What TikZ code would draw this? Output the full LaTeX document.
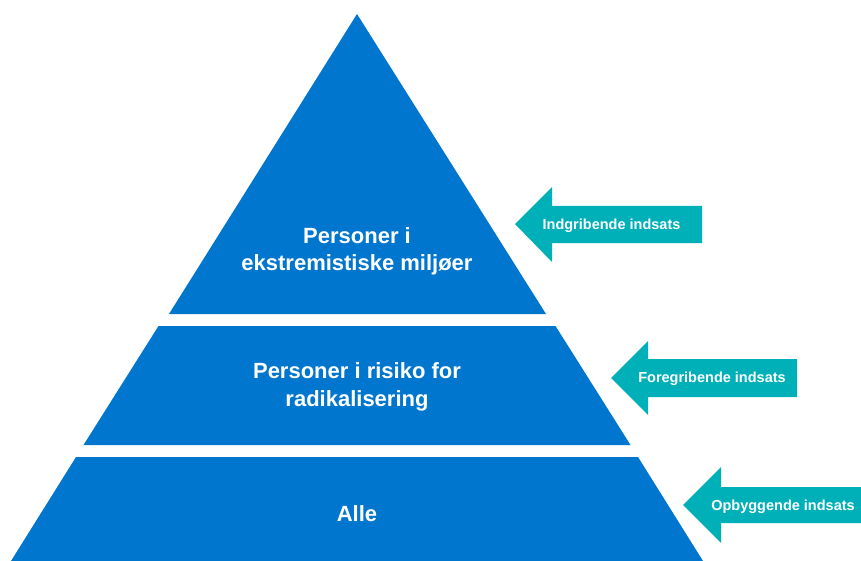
\documentclass[tikz,border=0pt]{standalone}
\usepackage{fontspec}
\setmainfont{Liberation Sans}
\definecolor{pyrblue}{RGB}{0,118,206}
\definecolor{arrteal}{RGB}{0,176,185}
\begin{document}
\begin{tikzpicture}[x=1pt,y=-1pt,
  tier/.style={fill=pyrblue,draw=none},
  arr/.style={fill=arrteal,draw=none},
  tiertext/.style={text=white,font=\bfseries\fontsize{22}{27.5}\selectfont,align=center},
  arrtext/.style={text=white,font=\bfseries\fontsize{14.5}{17}\selectfont}]
\useasboundingbox (0,0) rectangle (861,561);
% pyramid tiers
\fill[tier] (357,14) -- (546,314) -- (169,314) -- cycle;
\fill[tier] (158.5,326) -- (555.5,326) -- (630.5,445) -- (83.5,445) -- cycle;
\fill[tier] (76,457) -- (638,457) -- (703,561) -- (11,561) -- cycle;
% arrows
\fill[arr] (515,224) -- (552,187) -- (552,206) -- (702,206) -- (702,243) -- (552,243) -- (552,262) -- cycle;
\fill[arr] (611,378) -- (648,341) -- (648,359) -- (797,359) -- (797,397) -- (648,397) -- (648,415) -- cycle;
\fill[arr] (683,505) -- (721,467) -- (721,487) -- (861,487) -- (861,523) -- (721,523) -- (721,543) -- cycle;
% texts
\node[tiertext] (t1) at (357,251.5) {Personer i\\ekstremistiske miljøer};
\node[tiertext] (t2) at (357,387) {Personer i risiko for\\radikalisering};
\node[tiertext] (t3) at (357,514) {Alle};
\node[arrtext] (a1) at (611.5,225.5) {Indgribende indsats};
\node[arrtext] (a2) at (712,379) {Foregribende indsats};
\node[arrtext] (a3) at (783,506.5) {Opbyggende indsats};
\end{tikzpicture}
\end{document}
